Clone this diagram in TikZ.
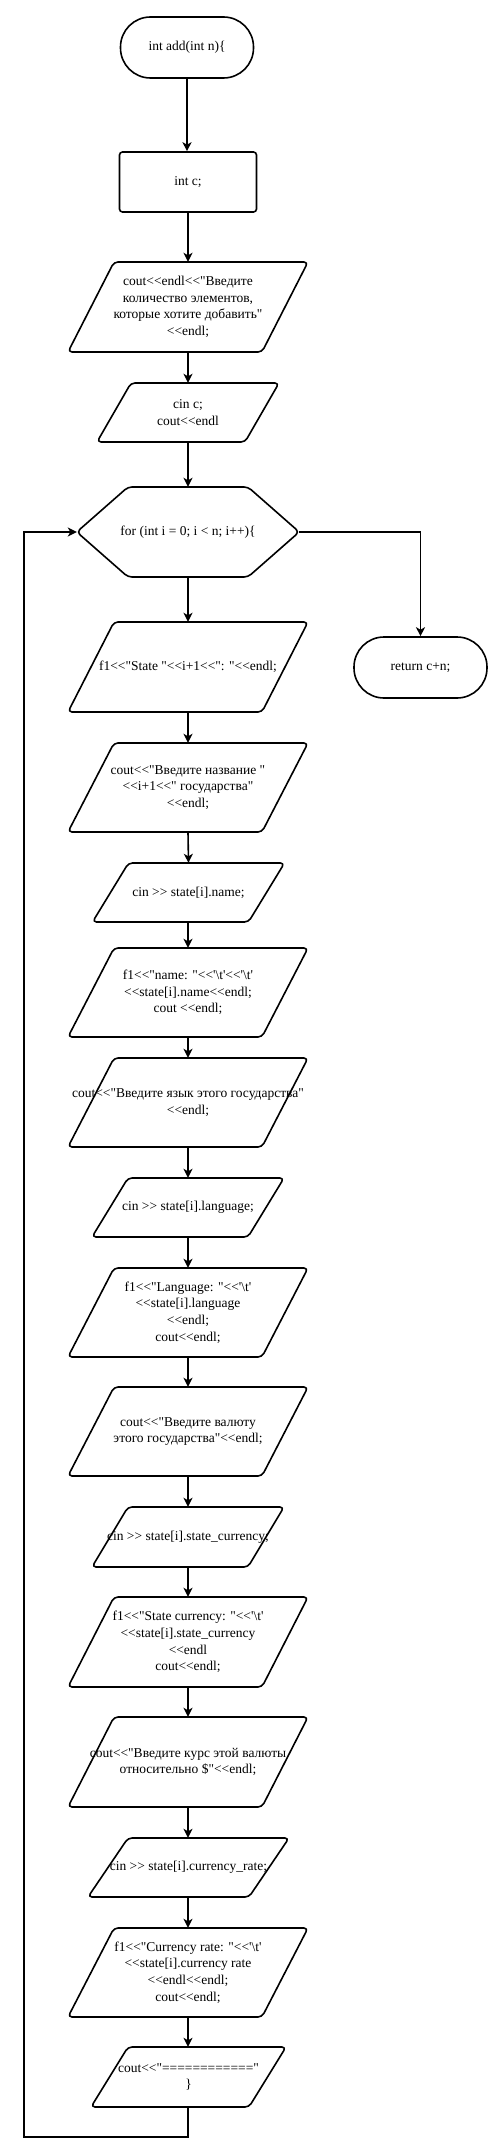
\documentclass[tikz,border=0pt]{standalone}
\usepackage{fontspec}
\setmainfont{Liberation Serif}[Ligatures=TeXOff]
\usetikzlibrary{arrows.meta,calc}
\tikzset{
  txt/.style={inner sep=0pt, align=center, font=\fontsize{13.5}{16.7}\selectfont},
  shp/.style={line width=1.6pt, rounded corners=4pt, line join=round},
  arr/.style={line width=1.6pt, -{Stealth[length=9pt,width=9pt,inset=2.5pt]}},
  term/.style={txt, draw, line width=1.6pt, rounded corners=30pt, minimum width=133pt, minimum height=61pt},
  procbox/.style={txt, draw, line width=1.6pt, rounded corners=3pt, minimum width=137pt, minimum height=60pt},
}
% name, cx, cy, edge length, height, slant, text
\newcommand\pgram[7]{%
  \node[txt, minimum height=#5pt, minimum width=#4pt] (#1) at (#2,#3) {#7};
  \draw[shp] ($(#1.center)+({-#4/2+#6/2},{-#5/2})$) -- ($(#1.center)+({#4/2+#6/2},{-#5/2})$)
    -- ($(#1.center)+({#4/2-#6/2},{#5/2})$) -- ($(#1.center)+({-#4/2-#6/2},{#5/2})$) -- cycle;
}
\begin{document}
\begin{tikzpicture}[x=1pt,y=-1pt]
\useasboundingbox (0,0) rectangle (495,2151);

\node[term] (start) at (187,47.5) {int add(int n)\{};
\node[procbox] (intc) at (188,182) {int c;};
\pgram{p1}{188}{307}{194}{90}{46}{cout<<endl<<"Введите\\количество элементов,\\которые хотите добавить"\\<<endl;}
\pgram{p2}{188}{412.5}{148}{59}{34}{cin c;\\cout<<endl}

\node[txt, minimum width=222pt, minimum height=90pt] (loop) at (188,532) {for (int i = 0; i < n; i++)\{};
\draw[shp] (loop.west) -- ($(loop.center)+(-60,-45)$) -- ($(loop.center)+(60,-45)$) -- (loop.east)
  -- ($(loop.center)+(60,45)$) -- ($(loop.center)+(-60,45)$) -- cycle;

\node[term] (ret) at (420.5,667.5) {return c+n;};

\pgram{p3}{188}{667}{194}{90}{46}{f1<<"State "<<i+1<<": "<<endl;}
\pgram{p4}{188}{787.5}{194}{89}{46}{cout<<"Введите название "\\<<i+1<<" государства"\\<<endl;}
\pgram{p5}{188.5}{892.5}{156}{59}{36}{cin >> state[i].name;}
\pgram{p6}{188}{992.5}{194}{89}{46}{f1<<"name: "<<'\textbackslash t'<<'\textbackslash t'\\<<state[i].name<<endl;\\cout <<endl;}
\pgram{p7}{188}{1102.5}{194}{89}{46}{cout<<"Введите язык этого государства"\\<<endl;}
\pgram{p8}{188}{1207.5}{156}{59}{36}{cin >> state[i].language;}
\pgram{p9}{188}{1312.5}{194}{89}{46}{f1<<"Language: "<<'\textbackslash t'\\<<state[i].language\\<<endl;\\cout<<endl;}
\pgram{p10}{188}{1431.5}{194}{89}{46}{cout<<"Введите валюту\\этого государства"<<endl;}
\pgram{p11}{188}{1537}{156}{60}{36}{cin >> state[i].state\_currency;}
\pgram{p12}{188}{1642}{194}{90}{46}{f1<<"State currency: "<<'\textbackslash t'\\<<state[i].state\_currency\\<<endl\\cout<<endl;}
\pgram{p13}{188}{1762}{194}{90}{46}{cout<<"Введите курс этой валюты\\относительно \$"<<endl;}
\pgram{p14}{188.5}{1867.5}{161}{59}{40}{cin >> state[i].currency\_rate;}
\pgram{p15}{188}{1972.5}{194}{89}{46}{f1<<"Currency rate: "<<'\textbackslash t'\\<<state[i].currency rate\\<<endl<<endl;\\cout<<endl;}
\pgram{p16}{188.5}{2077}{158}{60}{37}{cout<<"============"\\\}}

\coordinate (lc) at (24,2137);

\draw[arr] (start.south) -- (start.south |- intc.north);
\draw[arr] (intc.south) -- (p1.north);
\draw[arr] (p1.south) -- (p2.north);
\draw[arr] (p2.south) -- (loop.north);
\draw[arr] (loop.south) -- (p3.north);
\draw[arr] (loop.east) -| (ret.north);
\draw[arr] (p3.south) -- (p4.north);
\draw[arr] (p4.south) -- (p5.south |- p5.north);
\draw[arr] (p5.south -| p4.south) -- (p6.north);
\draw[arr] (p6.south) -- (p7.north);
\draw[arr] (p7.south) -- (p8.north -| p7.south);
\draw[arr] (p8.south -| p7.south) -- (p9.north);
\draw[arr] (p9.south) -- (p10.north);
\draw[arr] (p10.south) -- (p11.north);
\draw[arr] (p11.south) -- (p12.north);
\draw[arr] (p12.south) -- (p13.north);
\draw[arr] (p13.south) -- (p14.north -| p13.south);
\draw[arr] (p14.south -| p13.south) -- (p15.north);
\draw[arr] (p15.south) -- (p16.north -| p15.south);
\draw[arr] (p16.south -| p15.south) -- (p15.south |- lc) -- (lc) |- (loop.west);
\end{tikzpicture}
\end{document}
